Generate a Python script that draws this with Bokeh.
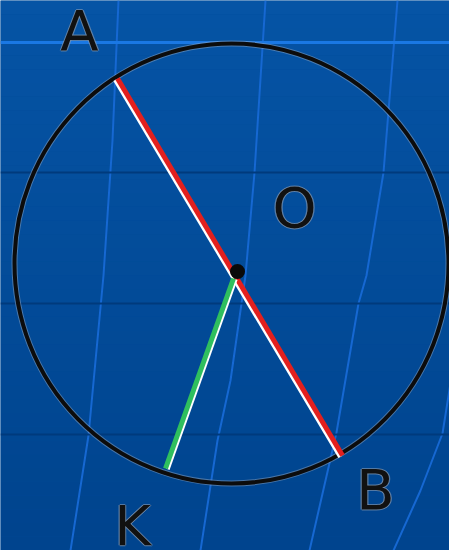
import numpy as np
from bokeh.plotting import figure
from bokeh.models import Range1d
from bokeh.core.properties import value
from bokeh.embed import file_html
from bokeh.resources import INLINE

# ---- data (reference pixel coordinates, y grows downward) ----
circle_center = (231, 263)
circle_size = (434, 440)          # width, height
point_A = (117, 78)
point_B = (342, 455)
point_O = (237, 271)
green_start = (233, 278)
point_K = (165, 468)

label_text = ["A", "O", "B", "K"]
label_x = [79, 294, 375, 132]
label_y = [30, 207, 489, 525]      # letter centres

bright_lat_y = [42]
dark_lat_y = [172, 303, 434]
meridians_x = [
    [118, 112, 103, 88, 70],
    [265, 254, 245, 230, 217, 200],
    [397, 383, 366, 358, 336, 309],
    [452, 442, 420, 393],
]
meridians_y = [
    [0, 140, 275, 435, 550],
    [0, 172, 275, 380, 440, 550],
    [0, 172, 275, 303, 432, 550],
    [370, 433, 490, 550],
]

p = figure(width=449, height=550, output_backend="svg", toolbar_location=None,
           x_range=Range1d(0, 449), y_range=Range1d(550, 0),
           min_border=0, outline_line_color=None)
p.axis.visible = False
p.grid.visible = False
p.background_fill_color = "#004b98"
p.border_fill_color = "#004b98"

# background vertical gradient
n = 40
edges = np.linspace(0, 550, n + 1)
c0 = np.array([6, 84, 165]); c1 = np.array([0, 68, 142])
cols = ["#%02x%02x%02x" % tuple((c0 + (c1 - c0) * t).astype(int)) for t in np.linspace(0, 1, n)]
p.quad(left=0, right=449, bottom=edges[1:], top=edges[:-1], fill_color=cols, line_color=None)

# globe grid
p.multi_line(xs=meridians_x, ys=meridians_y, line_color="#1668d2", line_width=2)
p.hspan(y=dark_lat_y, line_color="#003a7c", line_width=2)
p.hspan(y=bright_lat_y, line_color="#1a78e4", line_width=3)

# circle
p.ellipse(x=[circle_center[0]], y=[circle_center[1]], width=circle_size[0], height=circle_size[1],
          fill_color=None, line_color="#9fb0c4", line_width=6, line_alpha=0.45)
p.ellipse(x=[circle_center[0]], y=[circle_center[1]], width=circle_size[0], height=circle_size[1],
          fill_color=None, line_color="#0c0c0c", line_width=4)

# diameter AB (white shadow + red)
p.segment(x0=[point_A[0] - 2.4], y0=[point_A[1] + 1.4], x1=[point_B[0] - 2.4], y1=[point_B[1] + 1.4],
          line_color="#ffffff", line_width=4)
p.segment(x0=[point_A[0]], y0=[point_A[1]], x1=[point_B[0]], y1=[point_B[1]],
          line_color="#e3201e", line_width=5)

# radius OK (white shadow + green)
p.segment(x0=[green_start[0] + 2.4], y0=[green_start[1] + 0.9], x1=[point_K[0] + 2.4], y1=[point_K[1] + 0.9],
          line_color="#ffffff", line_width=3.5)
p.segment(x0=[green_start[0]], y0=[green_start[1]], x1=[point_K[0]], y1=[point_K[1]],
          line_color="#2fbf5e", line_width=5)

# centre point
p.scatter(x=[point_O[0]], y=[point_O[1]], size=15, fill_color="#0a0a0a", line_color=None)

# labels with a soft grey halo
for dx, dy in [(-1.2, 0), (1.2, 0), (0, -1.2), (0, 1.2)]:
    p.text(x=[v + dx for v in label_x], y=[v + dy for v in label_y], text=label_text,
           text_font=value("DejaVu Sans"), text_font_size="56px", text_color="#8a9bb0",
           text_alpha=0.6, text_align="center", text_baseline="middle")
p.text(x=label_x, y=label_y, text=label_text, text_font=value("DejaVu Sans"),
       text_font_size="56px", text_color="#111111", text_align="center",
       text_baseline="middle")

open("out.html", "w").write(file_html(p, INLINE))
